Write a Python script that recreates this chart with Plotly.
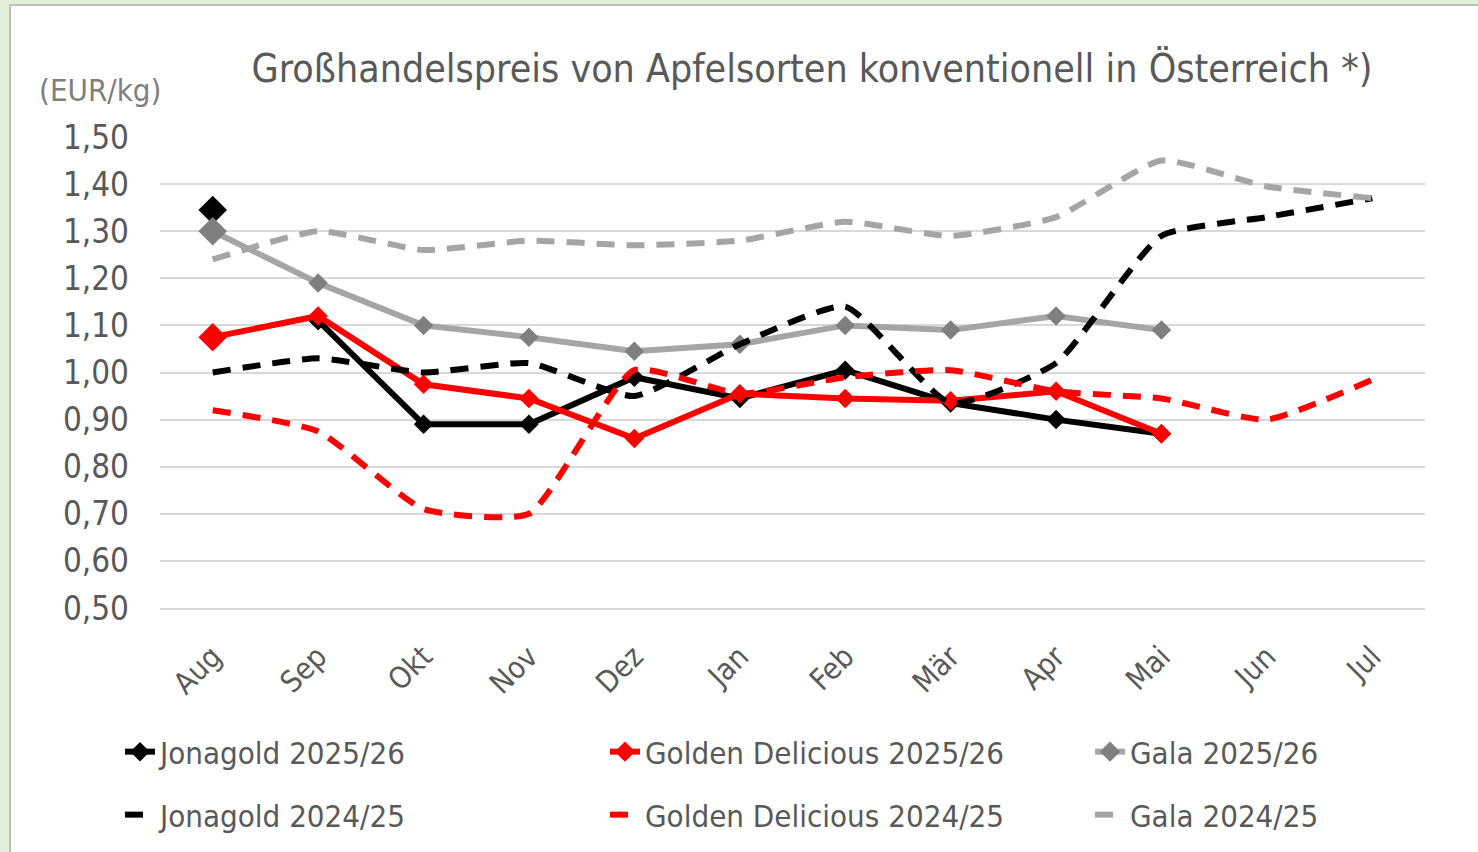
import plotly.graph_objects as go

months = ["Aug", "Sep", "Okt", "Nov", "Dez", "Jan", "Feb", "Mär", "Apr", "Mai", "Jun", "Jul"]

jonagold_2526 = [1.345, 1.11, 0.89, 0.89, 0.99, 0.945, 1.005, 0.935, 0.90, 0.87]
golden_2526 = [1.075, 1.12, 0.975, 0.945, 0.86, 0.955, 0.945, 0.94, 0.96, 0.87]
gala_2526 = [1.30, 1.19, 1.10, 1.075, 1.045, 1.06, 1.10, 1.09, 1.12, 1.09]

jonagold_2425 = [1.00, 1.03, 1.00, 1.02, 0.95, 1.06, 1.14, 0.935, 1.02, 1.29, 1.33, 1.37]
golden_2425 = [0.92, 0.875, 0.71, 0.70, 1.005, 0.955, 0.99, 1.005, 0.96, 0.945, 0.90, 0.985]
gala_2425 = [1.24, 1.30, 1.26, 1.28, 1.27, 1.28, 1.32, 1.29, 1.33, 1.45, 1.395, 1.37]

y_ticks = [0.5, 0.6, 0.7, 0.8, 0.9, 1.0, 1.1, 1.2, 1.3, 1.4, 1.5]

FONT = "DejaVu Sans Condensed"
TXT = "#595959"
BLACK = "#000000"
RED = "#FF0000"
GRAY = "#A5A5A5"
GRAY_M = "#7F7F7F"

W, H = 1478, 852
L, R, T, B = 160, 53, 137, 244
pw, ph = W - L - R, H - T - B

def px_x(x):
    return (x - L) / pw

def px_y(y):
    return (H - B - y) / ph

def sizes(n):
    return [22] + [15] * (n - 1)

fig = go.Figure()

# 2025/26 series (solid, markers)
fig.add_trace(go.Scatter(
    x=months[1:len(jonagold_2526)], y=jonagold_2526[1:], name="Jonagold 2025/26",
    mode="lines+markers", line=dict(color=BLACK, width=6),
    marker=dict(symbol="diamond", size=15, color=BLACK, opacity=1, line=dict(width=0)),
    legend="legend"))
fig.add_trace(go.Scatter(
    x=months[:1], y=jonagold_2526[:1], name="Jonagold 2025/26", showlegend=False,
    mode="markers", marker=dict(symbol="diamond", size=22, color=BLACK, opacity=1, line=dict(width=0)),
    legend="legend"))
fig.add_trace(go.Scatter(
    x=months[:len(golden_2526)], y=golden_2526, name="Golden Delicious 2025/26",
    mode="lines+markers", line=dict(color=RED, width=6),
    marker=dict(symbol="diamond", size=sizes(len(golden_2526)), color=RED, opacity=1, line=dict(width=0)),
    legend="legend2"))
fig.add_trace(go.Scatter(
    x=months[:len(gala_2526)], y=gala_2526, name="Gala 2025/26",
    mode="lines+markers", line=dict(color=GRAY, width=6),
    marker=dict(symbol="diamond", size=sizes(len(gala_2526)), color=GRAY_M, opacity=1, line=dict(width=0)),
    legend="legend3"))

# 2024/25 series (dashed, smoothed)
dash_style = dict(width=6, dash="18px,12px", shape="spline", smoothing=0.5)
fig.add_trace(go.Scatter(
    x=months, y=jonagold_2425, name="Jonagold 2024/25", mode="lines",
    line=dict(color=BLACK, **dash_style), legend="legend4"))
fig.add_trace(go.Scatter(
    x=months, y=golden_2425, name="Golden Delicious 2024/25", mode="lines",
    line=dict(color=RED, **dash_style), legend="legend5"))
fig.add_trace(go.Scatter(
    x=months, y=gala_2425, name="Gala 2024/25", mode="lines",
    line=dict(color=GRAY, **dash_style), legend="legend6"))

def leg(xpx, ypx):
    return dict(
        orientation="h", xref="container", yref="container",
        x=xpx / W, y=1 - ypx / H, xanchor="left", yanchor="middle",
        font=dict(family=FONT, size=31, color=TXT),
        bgcolor="rgba(0,0,0,0)", itemwidth=30)

col_x = [120, 605, 1090]
row_y = [752, 815]

fig.update_layout(
    width=W, height=H,
    margin=dict(l=L, r=R, t=T, b=B, autoexpand=False),
    paper_bgcolor="#E2EFDA",
    plot_bgcolor="white",
    separators=",.",
    title=dict(
        text="Großhandelspreis von Apfelsorten konventionell in Österreich *)",
        font=dict(family=FONT, size=39, color=TXT),
        x=812 / W, xref="container", xanchor="center",
        y=1 - 68 / H, yref="container", yanchor="middle"),
    xaxis=dict(
        type="category", categoryorder="array", categoryarray=months,
        range=[-0.5, 11.5], showgrid=False, tickangle=-45,
        tickfont=dict(family=FONT, size=30, color=TXT),
        ticks="", showline=True, linecolor="#D9D9D9", linewidth=2,
        ticklabelstandoff=17, zeroline=False, automargin=False),
    yaxis=dict(
        range=[0.5, 1.5], tickvals=y_ticks, tickformat=".2f",
        showgrid=True, gridcolor="#D9D9D9", gridwidth=2,
        tickfont=dict(family=FONT, size=33, color=TXT),
        ticks="", showline=False, zeroline=False, ticklabelstandoff=30,
        automargin=False),
    legend=leg(col_x[0], row_y[0]),
    legend2=leg(col_x[1], row_y[0]),
    legend3=leg(col_x[2], row_y[0]),
    legend4=leg(col_x[0], row_y[1]),
    legend5=leg(col_x[1], row_y[1]),
    legend6=leg(col_x[2], row_y[1]),
    shapes=[dict(
        type="rect", xref="paper", yref="paper", layer="below",
        x0=px_x(10), x1=px_x(1490), y0=px_y(860), y1=px_y(5),
        fillcolor="white", line=dict(color="#BFBFBF", width=2))],
    annotations=[dict(
        text="(EUR/kg)", xref="paper", yref="paper",
        x=px_x(100), y=px_y(90), xanchor="center", yanchor="middle",
        showarrow=False, font=dict(family=FONT, size=31, color="#7F7F7F"))],
)

fig.write_html(
    "out.html",
    config={"displayModeBar": False},
    post_script="document.body.style.margin='0';document.body.style.overflow='hidden';",
)
